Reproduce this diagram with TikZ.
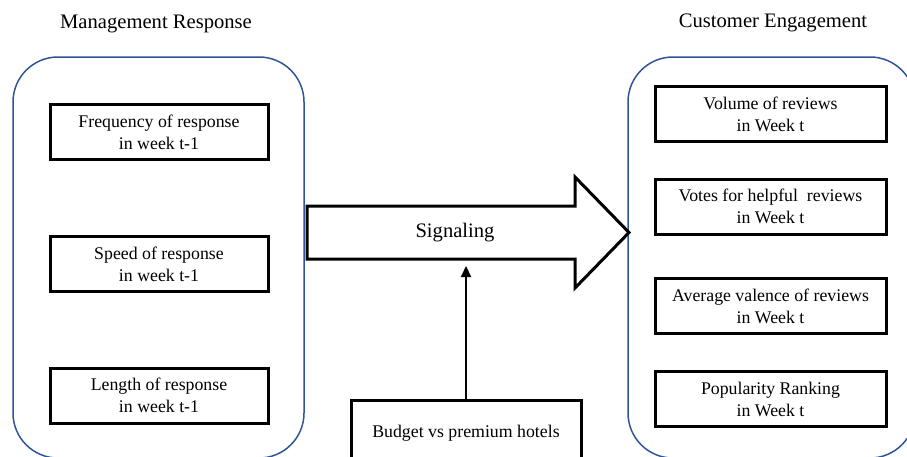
\documentclass[tikz,border=0pt]{standalone}
\usepackage{fontspec}
\setmainfont{Liberation Serif}
\usetikzlibrary{arrows.meta}
\definecolor{frameblue}{RGB}{47,85,151}
\tikzset{
  container/.style={draw=frameblue, line width=1.5pt, rounded corners=45pt},
  itembox/.style={draw=black, line width=3pt, minimum width=218pt, minimum height=55pt, align=center, font=\fontsize{17.8}{22}\selectfont, inner sep=0pt},
  ritembox/.style={itembox, minimum width=231pt},
  title/.style={font=\fontsize{20.6}{24}\selectfont},
  bigarrow/.style={draw=black, line width=3pt, line join=miter, fill=white},
  conn/.style={draw=black, line width=2.2pt, -{Triangle[length=11pt,width=10pt]}}
}
\begin{document}
\begin{tikzpicture}[x=1pt,y=-1pt]
\useasboundingbox (0,0) rectangle (907,456);
\clip (0,0) rectangle (907,456);
\fill[white] (0,0) rectangle (907,456);
% titles
\node[title] (tl) at (156,24) {Management Response};
\node[title] (tr) at (773,23) {Customer Engagement};
% containers
\draw[container] (13,57) rectangle (304,458);
\draw[container] (628,57) rectangle (915,458);
% left items
\node[itembox] (f) at (159,132) {Frequency of response\\in week t-1};
\node[itembox] (s) at (159,264) {Speed of response\\in week t-1};
\node[itembox] (l) at (159,395.5) {Length of response\\in week t-1};
% right items
\node[ritembox] (v) at (770.5,114) {Volume of reviews\\in Week t};
\node[ritembox] (h) at (770.5,206.5) {Votes for helpful\ \ reviews\\in Week t};
\node[ritembox] (a) at (770.5,306) {Average valence of reviews\\in Week t};
\node[ritembox] (p) at (770.5,399) {Popularity Ranking\\in Week t};
% signaling arrow
\draw[bigarrow] (307,206) -- (575,206) -- (575,177) -- (629,232.5) -- (575,288) -- (575,259) -- (307,259) -- cycle;
\node[title] (sig) at (455,233) {Signaling};
% budget box
\node[itembox, minimum width=230pt, minimum height=66pt, anchor=north] (b) at (466,399) {\raisebox{3pt}{Budget vs premium hotels}};
\coordinate (tip) at (466,266);
\draw[conn] (b.north) -- (tip);
\end{tikzpicture}
\end{document}
